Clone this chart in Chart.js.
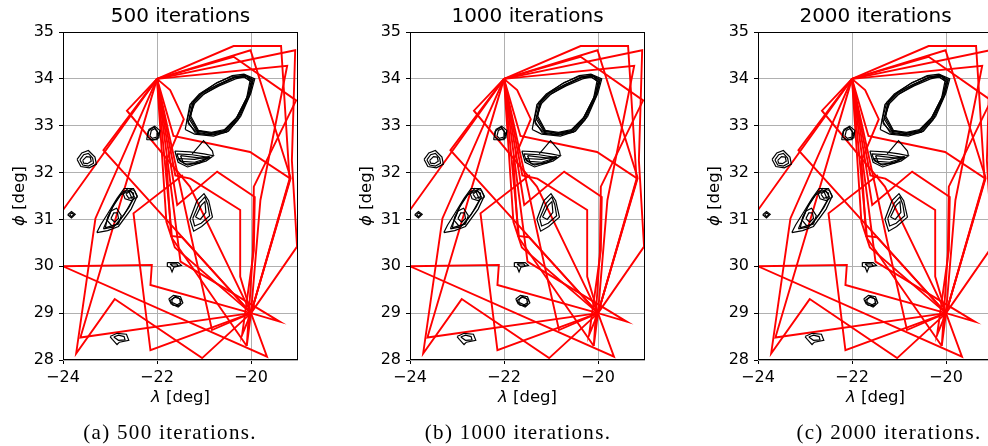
<!DOCTYPE html>
<html><head><meta charset="utf-8">
<script src="https://cdn.jsdelivr.net/npm/chart.js@4"></script>
<style>
html,body{margin:0;padding:0;background:#fff;overflow:hidden;width:988px;height:446px;position:relative}
canvas{position:absolute;top:0}
.cap{position:absolute;top:420px;line-height:24px;font-family:"Liberation Serif",serif;font-size:21px;letter-spacing:1.3px;white-space:nowrap;transform:translateX(-50%);color:#000}
</style></head><body>
<canvas id="c0" width="308" height="446" style="left:0px"></canvas>
<canvas id="c1" width="308" height="446" style="left:347px"></canvas>
<canvas id="c2" width="308" height="446" style="left:695px"></canvas>
<div class="cap" style="left:170px">(a) 500 iterations.</div>
<div class="cap" style="left:518px">(b) 1000 iterations.</div>
<div class="cap" style="left:889px">(c) 2000 iterations.</div>
<script>
// ---- panel texts ----
const titles = ["500 iterations", "1000 iterations", "2000 iterations"];
const xTicks = [-24, -22, -20];
const yTicks = [28, 29, 30, 31, 32, 33, 34, 35];
const xRange = [-24, -19];
const yRange = [28, 35];

// ---- red routes (lambda, phi) ----
const hubA = [-22, 34], hubB = [-20, 29], hubC = [-24, 30];
const route01 = [hubA, [-20.37,34.70], [-19.36,34.70], [-19.18,31.86], hubB];
const route02 = [hubA, [-20.01,34.61], [-19.16,31.90], hubB];
const route03 = [hubA, [-19.06,34.61], [-19.13,32.26], [-19.02,30.42], hubB];
const route04 = [hubA, [-19.23,34.28], [-19.80,31.41], hubB];
const route05 = [hubA, [-20.37,34.47], [-19.04,33.54], [-19.94,31.70], [-19.96,30.30], [-20.09,28.30], hubB];
const route06 = [hubA, [-21.72,33.76], [-21.43,33.14], [-21.80,32.25], [-21.70,30.65], [-21.47,30.62], hubB];
const route07 = [hubA, [-21.65,32.78], [-20.02,32.44], [-19.16,31.87], hubB];
const route08 = [hubA, [-21.50,30.10], [-19.39,28.82], hubB];
const route09 = [hubA, [-21.61,31.94], [-21.29,31.87], [-20.23,31.20], [-20.23,29.78], hubB];
const route10 = [hubA, [-21.57,31.31], [-20.72,32.02], [-19.92,31.48], [-19.94,30.34], [-20.19,28.53], hubB];
const route11 = [hubA, [-22.64,33.32], [-21.30,31.70], hubB];
const route12 = [hubA, [-23.14,32.48], hubB];
const route13 = [hubA, [-24.00,31.20], hubC, [-22.11,30.03], [-22.14,29.60], hubB];
const route14 = [hubA, [-23.31,31.02], [-23.72,28.14], [-22.90,29.30], [-21.04,28.04], hubB];
const route15 = [hubA, [-23.63,28.48], hubB];
const route16 = [[-21.45,31.95], [-22.50,31.13], [-22.14,28.21], hubB];
const route17 = [hubC, [-19.66,28.07], hubB];
const route18 = [hubA, [-21.20,30.30], [-20.83,28.64], hubB];
const route19 = [hubA, [-21.68,30.60], [-20.09,28.30]];
const route20 = [hubA, [-21.80,30.95], [-21.62,30.40], hubB];
const redRoutes = [route01, route02, route03, route04, route05, route06, route07, route08, route09, route10,
                   route11, route12, route13, route14, route15, route16, route17, route18, route19, route20];

// ---- black contour loops ----
const bigLoop1 = [[-21.36,33.12],[-21.26,33.50],[-21.05,33.70],[-20.70,33.88],[-20.35,34.04],[-20.12,34.08],[-19.95,33.98],[-20.03,33.65],[-20.28,33.12],[-20.52,32.86],[-20.85,32.80],[-21.18,32.84],[-21.36,33.12]];
const bigLoop2 = [[-21.32,33.15],[-21.20,33.48],[-21.00,33.68],[-20.68,33.85],[-20.33,34.00],[-20.10,34.05],[-19.98,33.95],[-20.08,33.62],[-20.32,33.15],[-20.55,32.90],[-20.85,32.84],[-21.15,32.88],[-21.32,33.15]];
const bigLoop3 = [[-21.40,32.92],[-21.30,33.45],[-21.10,33.68],[-20.75,33.90],[-20.40,34.07],[-20.15,34.10],[-19.92,34.00],[-20.00,33.70],[-20.22,33.20],[-20.48,32.88],[-20.80,32.78],[-21.20,32.82],[-21.40,32.92]];
const bigLoop4 = [[-21.28,33.20],[-21.22,33.52],[-21.02,33.72],[-20.72,33.92],[-20.38,34.06],[-20.18,34.06],[-20.02,33.96],[-20.10,33.55],[-20.35,33.08],[-20.60,32.88],[-20.88,32.83],[-21.12,32.90],[-21.28,33.20]];
const bigLoop5 = [[-21.34,33.05],[-21.24,33.48],[-21.04,33.69],[-20.72,33.87],[-20.37,34.03],[-20.13,34.07],[-19.96,33.97],[-20.05,33.63],[-20.30,33.13],[-20.54,32.88],[-20.86,32.81],[-21.16,32.86],[-21.34,33.05]];
const bigLoop6 = [[-21.30,33.18],[-21.22,33.46],[-21.02,33.66],[-20.70,33.86],[-20.36,34.02],[-20.14,34.04],[-20.00,33.94],[-20.06,33.66],[-20.30,33.18],[-20.56,32.92],[-20.84,32.86],[-21.14,32.90],[-21.30,33.18]];
const blob2a = [[-22.20,32.76],[-22.17,32.92],[-22.05,32.99],[-21.94,32.90],[-21.96,32.74],[-22.10,32.69],[-22.20,32.76]];
const blob2b = [[-22.15,32.78],[-22.12,32.90],[-22.04,32.94],[-21.98,32.86],[-22.00,32.76],[-22.10,32.73],[-22.15,32.78]];
const blob2c = [[-22.22,32.70],[-22.19,32.88],[-22.06,32.97],[-21.96,32.82],[-22.00,32.70],[-22.22,32.70]];
const blob3a = [[-23.70,32.28],[-23.60,32.42],[-23.46,32.47],[-23.32,32.33],[-23.29,32.18],[-23.44,32.10],[-23.62,32.13],[-23.70,32.28]];
const blob3b = [[-23.64,32.27],[-23.56,32.38],[-23.46,32.41],[-23.37,32.31],[-23.35,32.20],[-23.46,32.14],[-23.58,32.16],[-23.64,32.27]];
const blob3c = [[-23.58,32.26],[-23.50,32.34],[-23.42,32.33],[-23.40,32.24],[-23.48,32.19],[-23.56,32.20],[-23.58,32.26]];
const blob4a = [[-21.62,32.46],[-21.30,32.44],[-21.00,32.40],[-20.80,32.36],[-20.95,32.25],[-21.35,32.12],[-21.55,32.22],[-21.62,32.46]];
const blob4b = [[-21.58,32.40],[-21.25,32.38],[-20.88,32.32],[-21.05,32.24],[-21.35,32.16],[-21.52,32.25],[-21.58,32.40]];
const blob4c = [[-21.50,32.36],[-21.15,32.32],[-20.95,32.30],[-21.20,32.22],[-21.45,32.24],[-21.50,32.36]];
const blob4d = [[-21.55,32.30],[-21.20,32.28],[-20.90,32.34],[-21.10,32.20],[-21.40,32.18],[-21.55,32.30]];
const blob4s = [[-21.25,32.40],[-21.01,32.68],[-20.82,32.46],[-20.80,32.36]];
const blob5a = [[-23.90,31.10],[-23.82,31.17],[-23.74,31.11],[-23.82,31.03],[-23.90,31.10]];
const blob5b = [[-23.86,31.10],[-23.81,31.14],[-23.77,31.10],[-23.82,31.06],[-23.86,31.10]];
const blob6e1 = [[-23.28,30.72],[-23.05,30.76],[-22.82,30.85],[-22.55,31.22],[-22.42,31.50],[-22.50,31.66],[-22.70,31.66],[-22.85,31.45],[-23.05,31.12],[-23.20,30.88],[-23.28,30.72]];
const blob6e2 = [[-23.10,30.82],[-22.85,30.90],[-22.60,31.25],[-22.48,31.48],[-22.56,31.62],[-22.72,31.60],[-22.90,31.35],[-23.05,31.05],[-23.10,30.82]];
const blob6e3 = [[-23.14,30.80],[-22.92,30.84],[-22.70,31.10],[-22.52,31.42],[-22.60,31.60],[-22.78,31.52],[-22.95,31.25],[-23.14,30.80]];
const blob6a1 = [[-22.72,31.55],[-22.62,31.66],[-22.48,31.62],[-22.42,31.48],[-22.55,31.40],[-22.68,31.44],[-22.72,31.55]];
const blob6a2 = [[-22.66,31.54],[-22.58,31.60],[-22.50,31.56],[-22.50,31.48],[-22.60,31.45],[-22.66,31.54]];
const blob6b1 = [[-23.06,30.98],[-22.98,31.18],[-22.86,31.24],[-22.76,31.08],[-22.82,30.90],[-22.96,30.86],[-23.06,30.98]];
const blob6b2 = [[-22.98,31.02],[-22.92,31.14],[-22.84,31.14],[-22.82,31.02],[-22.90,30.94],[-22.98,31.02]];
const blob7a = [[-21.30,31.00],[-21.15,31.40],[-21.00,31.55],[-20.90,31.40],[-20.82,31.05],[-21.05,30.85],[-21.22,30.75],[-21.30,31.00]];
const blob7b = [[-21.24,31.02],[-21.10,31.35],[-20.98,31.48],[-20.92,31.32],[-20.88,31.08],[-21.06,30.92],[-21.20,30.86],[-21.24,31.02]];
const blob7c = [[-21.18,31.05],[-21.06,31.30],[-20.98,31.38],[-20.96,31.15],[-21.08,31.00],[-21.18,31.05]];
const blob8a = [[-21.78,30.08],[-21.55,30.08],[-21.48,30.02],[-21.64,29.98],[-21.68,29.88],[-21.72,29.98],[-21.78,30.00],[-21.78,30.08]];
const blob8b = [[-21.72,30.05],[-21.58,30.05],[-21.55,30.01],[-21.66,30.00],[-21.72,30.05]];
const blob9a = [[-21.75,29.30],[-21.65,29.38],[-21.50,29.35],[-21.45,29.22],[-21.55,29.13],[-21.70,29.20],[-21.75,29.30]];
const blob9b = [[-21.68,29.29],[-21.62,29.34],[-21.52,29.31],[-21.50,29.22],[-21.57,29.18],[-21.66,29.22],[-21.68,29.29]];
const blob9c = [[-21.72,29.27],[-21.60,29.36],[-21.48,29.28],[-21.52,29.16],[-21.66,29.17],[-21.72,29.27]];
const blob10a = [[-23.00,28.50],[-22.85,28.57],[-22.65,28.55],[-22.60,28.42],[-22.80,28.38],[-22.85,28.33],[-22.95,28.44],[-23.00,28.50]];
const blob10b = [[-22.92,28.49],[-22.82,28.53],[-22.70,28.50],[-22.68,28.43],[-22.82,28.42],[-22.92,28.49]];
const blackLoops = [bigLoop1, bigLoop2, bigLoop3, bigLoop4, bigLoop5, bigLoop6, blob2a, blob2b, blob2c, blob3a, blob3b, blob3c,
  blob4a, blob4b, blob4c, blob4d, blob4s, blob5a, blob5b, blob6e1, blob6e2, blob6e3, blob6a1, blob6a2, blob6b1, blob6b2,
  blob7a, blob7b, blob7c, blob8a, blob8b, blob9a, blob9b, blob9c, blob10a, blob10b];

const FONT = "DejaVu Sans";
const fmt = v => (v < 0 ? "\u2212" + Math.abs(v) : String(v));
const toXY = arr => arr.map(p => ({x: p[0], y: p[1]}));

const decor = {
  id: "decor",
  afterDraw(chart, args, opts) {
    const ctx = chart.ctx, ca = chart.chartArea;
    ctx.save();
    ctx.strokeStyle = "#000"; ctx.lineWidth = 1;
    ctx.strokeRect(ca.left + 0.5, ca.top + 0.5, ca.right - ca.left - 1, ca.bottom - ca.top - 1);
    const cx = (ca.left + ca.right) / 2;
    ctx.fillStyle = "#000";
    ctx.textAlign = "center"; ctx.textBaseline = "middle";
    ctx.font = "20px '" + FONT + "'";
    ctx.fillText(opts.title, cx, 17);
    const drawLabel = (sym, rest, x, y) => {
      ctx.font = "italic 16.5px '" + FONT + "'";
      const w1 = ctx.measureText(sym).width;
      ctx.font = "16.5px '" + FONT + "'";
      const w2 = ctx.measureText(rest).width;
      const x0 = x - (w1 + w2) / 2;
      ctx.textAlign = "left";
      ctx.font = "italic 16.5px '" + FONT + "'";
      ctx.fillText(sym, x0, y);
      ctx.font = "16.5px '" + FONT + "'";
      ctx.fillText(rest, x0 + w1, y);
    };
    drawLabel("\u03bb", " [deg]", cx, 398);
    ctx.translate(20, (ca.top + ca.bottom) / 2);
    ctx.rotate(-Math.PI / 2);
    drawLabel("\u03d5", " [deg]", 0, 0);
    ctx.restore();
  }
};

function makeChart(id, title) {
  const datasets = [];
  blackLoops.forEach(l => datasets.push({data: toXY(l), borderColor: "#000", borderWidth: 1.2,
    showLine: true, pointRadius: 0, fill: false, tension: 0, order: 0}));
  redRoutes.forEach(r => datasets.push({data: toXY(r), borderColor: "#ff0000", borderWidth: 1.9,
    showLine: true, pointRadius: 0, fill: false, tension: 0, order: 1}));
  new Chart(document.getElementById(id), {
    type: "scatter",
    data: {datasets},
    options: {
      responsive: false, animation: false, events: [],
      layout: {padding: {top: 32, left: 0, right: 10, bottom: 0}},
      plugins: {legend: {display: false}, tooltip: {enabled: false}, title: {display: false}, decor: {title}},
      scales: {
        x: {type: "linear", min: xRange[0], max: xRange[1],
          afterBuildTicks: s => { s.ticks = xTicks.map(v => ({value: v})); },
          afterFit: s => { s.height = 86; },
          ticks: {callback: fmt, font: {family: FONT, size: 16}, color: "#000", padding: 4, maxRotation: 0, autoSkip: false},
          grid: {color: "#b0b0b0", lineWidth: 1, tickColor: "#000", tickLength: 4},
          border: {display: false}},
        y: {type: "linear", min: yRange[0], max: yRange[1],
          afterBuildTicks: s => { s.ticks = yTicks.map(v => ({value: v})); },
          afterFit: s => { s.width = 63; },
          ticks: {callback: fmt, font: {family: FONT, size: 16}, color: "#000", padding: 5, autoSkip: false},
          grid: {color: "#b0b0b0", lineWidth: 1, tickColor: "#000", tickLength: 4},
          border: {display: false}}
      }
    },
    plugins: [decor]
  });
}
makeChart("c0", titles[0]);
makeChart("c1", titles[1]);
makeChart("c2", titles[2]);
</script>
</body></html>
